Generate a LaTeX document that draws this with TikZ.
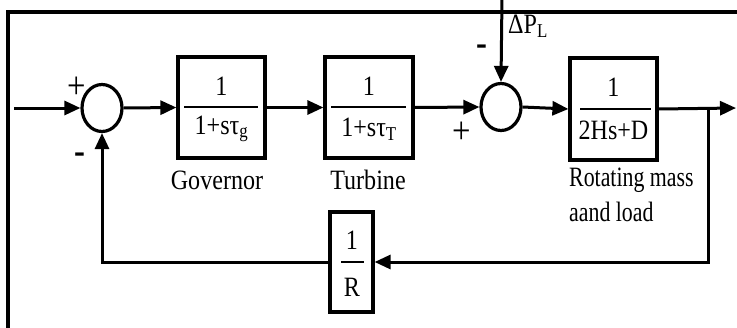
\documentclass[tikz,border=0pt]{standalone}
\usepackage{fontspec}
\setmainfont{Liberation Serif}[FakeStretch=0.86]
\newfontfamily\narrowf{Liberation Serif}[FakeStretch=0.78]
\usetikzlibrary{arrows.meta,shapes.geometric}
\begin{document}
\begin{tikzpicture}[x=1pt,y=-1pt,
  blk/.style={draw,line width=3.2pt,inner sep=0},
  sumc/.style={draw,ellipse,line width=3.2pt,minimum width=40pt,minimum height=47pt,inner sep=0},
  sig/.style={line width=3pt,-{Triangle[length=16pt,width=14pt]}},
  bar/.style={line width=1.6pt},
  lbl/.style={font=\fontsize{28}{30}\selectfont,inner sep=0},
  nlbl/.style={font=\narrowf\fontsize{28}{30}\selectfont,inner sep=0},
  sgn/.style={font=\fontsize{38}{38}\selectfont,inner sep=0},
  msgn/.style={font=\bfseries\fontsize{38}{38}\selectfont,inner sep=0}]
\useasboundingbox (0,0) rectangle (737,327);
\draw[line width=3.5pt] (8,340) -- (8,12) -- (745,12);
% coordinates
\coordinate (in) at (14,108);
\coordinate (out) at (736,108);
\coordinate (pick) at (708,108);
\coordinate (dpl) at (502,-2);
% summing junctions
\node[sumc] (s1) at (102,108) {};
\node[sumc] (s2) at (501,107) {};
% blocks
\node[blk,minimum width=87pt,minimum height=101pt] (gov) at (221.5,107.5) {};
\node[blk,minimum width=88pt,minimum height=101pt] (tur) at (369,107.5) {};
\node[blk,minimum width=87pt,minimum height=102pt] (rot) at (613.5,109) {};
\node[blk,minimum width=43pt,minimum height=100pt] (R) at (351.5,262) {};
% fractions
\node[lbl] (g1) at (221.5,86) {1};
\draw[bar] (184,107) -- (258,107);
\node[lbl] (g2) at (221.5,129) {1+sτ\textsubscript{g}};
\node[lbl] (t1) at (369,86) {1};
\draw[bar] (331,107) -- (406,107);
\node[lbl] (t2) at (369,129) {1+sτ\textsubscript{T}};
\node[lbl] (r1) at (613.5,87) {1};
\draw[bar] (580,109) -- (651,109);
\node[lbl] (r2) at (613.5,130) {2Hs+D};
\node[lbl] (q1) at (352,240) {1};
\draw[bar] (341,262) -- (364,262);
\node[lbl] (q2) at (352,287) {R};
% labels
\node[lbl] (lg) at (217,180) {Governor};
\node[lbl] (lt) at (368,180) {Turbine};
\node[nlbl,anchor=west] (lr1) at (569,180) {Rotating mass};
\node[nlbl,anchor=west] (lr2) at (569,212) {aand load};
\node[lbl,anchor=west] (lp) at (508,26) {ΔP\textsubscript{L}};
\node[sgn] (p1) at (77,88) {+};
\node[msgn] (m1) at (80,158) {-};
\node[sgn] (p2) at (462,133) {+};
\node[msgn] (m2) at (482,50) {-};
% connectors
\draw[sig] (in) -- (s1.west);
\draw[sig] (s1.east) -- (gov.west);
\draw[sig] (gov.east) -- (tur.west);
\draw[sig] (tur.east) -- (s2.west);
\draw[sig] (s2.east) -- (rot.west);
\draw[sig] (rot.east) -- (out);
\draw[sig] (pick) |- (R.east);
\draw[sig] (R.west) -| (s1.south);
\draw[sig] (dpl) -- (s2.north);
\end{tikzpicture}
\end{document}
